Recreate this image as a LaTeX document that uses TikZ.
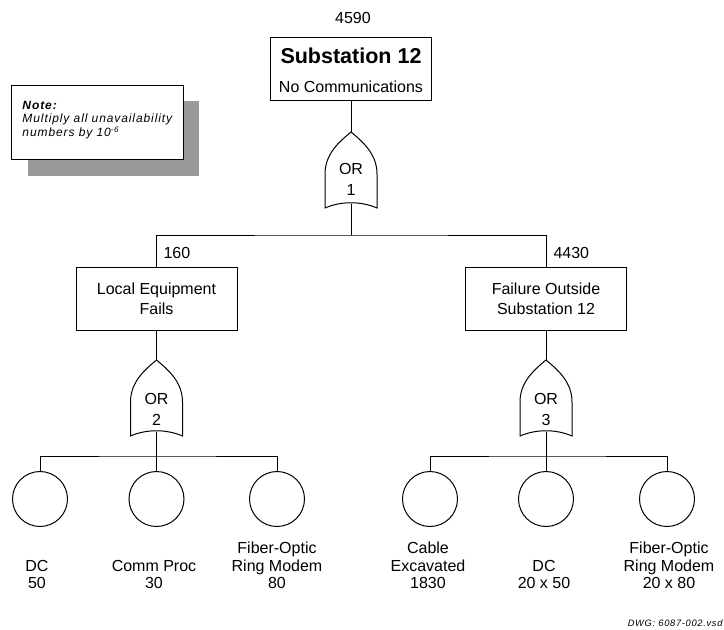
\documentclass[tikz,border=0pt]{standalone}
\usepackage{fontspec}
\usepackage{xcolor}
\usepackage{tikz}
\setmainfont{Liberation Sans}
\newfontfamily\spacedfont[LetterSpace=7.5]{Liberation Sans}
\definecolor{shadowgray}{HTML}{999999}
\newcommand\lbl{\fontsize{16}{20}\selectfont}
\newcommand\orshape[1]{%
  \draw[line width=1pt, shift={(#1.center)}] (-26,38) -- (-26,4)
    .. controls (-26,-16) and (-12,-28) .. (0,-38)
    .. controls (12,-28) and (26,-16) .. (26,4) -- (26,38)
    .. controls (10,31) and (-10,31) .. (-26,38) -- cycle;}
\tikzset{
  event/.style={draw, line width=1pt, minimum width=161pt, minimum height=63pt, inner sep=0pt, align=center, font=\lbl},
  gate/.style={minimum width=52pt, minimum height=76pt, inner sep=0pt},
  gatetext/.style={align=center, inner sep=0pt, font=\fontsize{16}{21}\selectfont},
  basic/.style={draw, circle, line width=1pt, minimum size=55pt, inner sep=0pt},
  basiclbl/.style={align=center, anchor=south, inner sep=0pt, font=\fontsize{16}{17.5}\selectfont},
  prob/.style={anchor=west, inner sep=0pt, font=\lbl},
}
\begin{document}
\begin{tikzpicture}[x=1pt, y=-1pt, line width=1pt]
\useasboundingbox (0,0) rectangle (724,630);

% note with shadow
\node[fill=shadowgray, minimum width=171pt, minimum height=75pt, inner sep=0pt] (shadow) at (113.5,138.5) {};
\node[draw, fill=white, minimum width=171.3pt, minimum height=74pt, inner sep=0pt] (note) at (97.35,122) {};
\node[anchor=west, align=left, inner sep=0pt, font=\spacedfont\itshape\fontsize{12}{13.5}\selectfont] (notet) at (22,120)
  {\textbf{Note:}\\Multiply all unavailability\\numbers by 10\textsuperscript{-6}};

% top event
\node[prob, anchor=center] (topval) at (353,18) {4590};
\node[event, minimum height=62.5pt] (top) at (351,68.75) {};
\node[inner sep=0pt, font=\fontsize{21.5}{24}\selectfont\bfseries] (toptitle) at (351,56) {Substation 12};
\node[inner sep=0pt, font=\lbl] (topsub) at (351,87) {No Communications};

\node[gate] (g1) at (351,170) {};
\orshape{g1}
\node[gatetext] (g1t) at (351,179) {OR\\1};
\coordinate (bus1) at (351,235);

\draw (top.south) -- (g1.north);
\draw ([yshift=5pt]g1.south) -- (bus1);

% intermediate events
\node[event] (lb) at (156.5,298.5) {Local Equipment\\Fails};
\node[event] (rb) at (546,298.5) {Failure Outside\\Substation 12};
\node[prob] (v160) at (163,253) {160};
\node[prob] (v4430) at (553,253) {4430};
\draw (lb.north) |- (bus1) -| (rb.north);

\node[gate] (g2) at (156.5,398) {};
\orshape{g2}
\node[gatetext] (g2t) at (156.5,409) {OR\\2};
\node[gate] (g3) at (546,398) {};
\orshape{g3}
\node[gatetext] (g3t) at (546,409) {OR\\3};
\draw (lb.south) -- (g2.north);
\draw (rb.south) -- (g3.north);

% basic events
\node[basic] (e1) at (40,499) {};
\node[basic] (e2) at (156.5,499) {};
\node[basic] (e3) at (277,499) {};
\node[basic] (e4) at (430,499) {};
\node[basic] (e5) at (546,499) {};
\node[basic] (e6) at (667,499) {};
\coordinate (bus2) at (156.5,456);
\coordinate (bus3) at (546,456);

\draw ([yshift=5pt]g2.south) -- (e2.north);
\draw (e1.north) |- (bus2) -| (e3.north);
\draw ([yshift=5pt]g3.south) -- (e5.north);
\draw (e4.north) |- (bus3) -| (e6.north);

\node[basiclbl] (l1) at (37,589.5) {DC\\50};
\node[basiclbl] (l2) at (154,589.5) {Comm Proc\\30};
\node[basiclbl] (l3) at (277,589.5) {Fiber-Optic\\Ring Modem\\80};
\node[basiclbl] (l4) at (428,589.5) {Cable\\Excavated\\1830};
\node[basiclbl] (l5) at (544,589.5) {DC\\20 x 50};
\node[basiclbl] (l6) at (669,589.5) {Fiber-Optic\\Ring Modem\\20 x 80};

\node[anchor=east, inner sep=0pt, font=\spacedfont\itshape\fontsize{9.3}{11}\selectfont] (dwg) at (723,623) {DWG: 6087-002.vsd};
\end{tikzpicture}
\end{document}
